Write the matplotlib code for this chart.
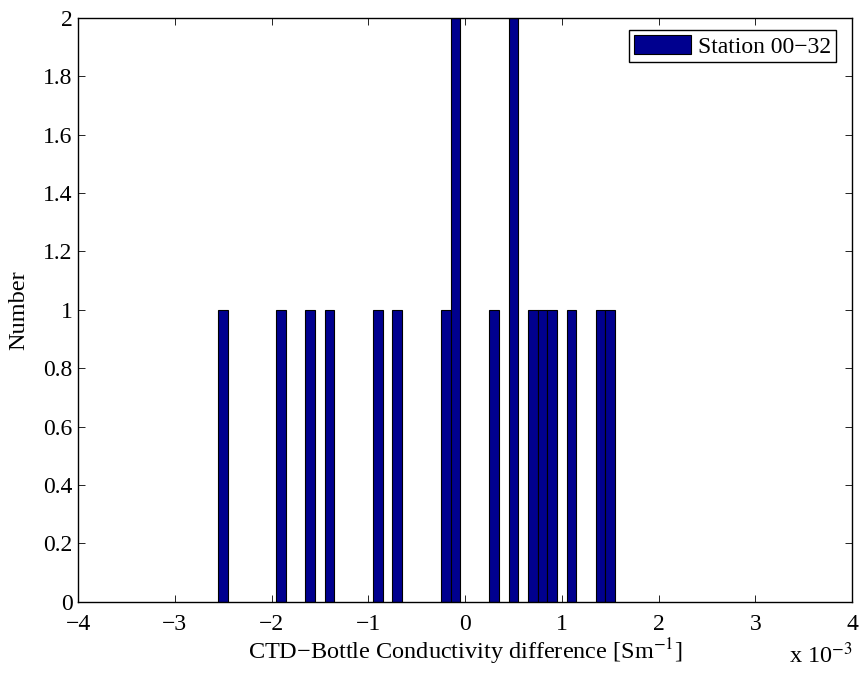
import matplotlib
matplotlib.use('Agg')
from matplotlib import pyplot as plt

# Bin centres (units of 1e-3 S/m) and counts
centres = [-2.5, -1.9, -1.6, -1.4, -0.9, -0.7, -0.2, -0.1,
           0.3, 0.5, 0.7, 0.8, 0.9, 1.1, 1.4, 1.5]
counts = [1, 1, 1, 1, 1, 1, 1, 2,
          1, 2, 1, 1, 1, 1, 1, 1]
bin_width = 0.1
x_ticks = [-4, -3, -2, -1, 0, 1, 2, 3, 4]
y_ticks = [0, 0.2, 0.4, 0.6, 0.8, 1, 1.2, 1.4, 1.6, 1.8, 2]

plt.rcParams['font.family'] = ['Liberation Serif', 'DejaVu Serif']
plt.rcParams['mathtext.fontset'] = 'stix'

fig = plt.figure(figsize=(8.61, 6.73), dpi=100)
ax = fig.add_axes([0.0906, 0.1059, 0.899, 0.8678])

ax.bar(centres, counts, width=bin_width, color='#00008f', edgecolor='black',
       linewidth=0.8, label='Station 00\u221232')

ax.set_xlim(-4, 4)
ax.set_ylim(0, 2)
ax.set_xticks(x_ticks)
ax.set_xticklabels([str(t).replace('-', '\u2212') for t in x_ticks])
ax.set_yticks(y_ticks)
ax.set_yticklabels(['%g' % t for t in y_ticks])
ax.tick_params(direction='in', top=True, right=True, length=5, width=0.6,
               labelsize=17)
ax.tick_params(axis='x', pad=9)
ax.tick_params(axis='y', pad=4)
for s in ax.spines.values():
    s.set_linewidth(1.0)

ax.set_xlabel('CTD\u2212Bottle Conductivity difference [Sm$^{-1}$]', fontsize=17.5, labelpad=1)
ax.set_ylabel('Number', fontsize=17.5, labelpad=10)
fig.text(0.99, 0.014, 'x 10$^{-3}$', fontsize=17.5, ha='right', va='baseline')

leg = ax.legend(loc='upper right', bbox_to_anchor=(0.979, 0.979), borderaxespad=0,
                fontsize=17, fancybox=False, framealpha=1,
                borderpad=0.2, handlelength=2.4, handleheight=0.9,
                handletextpad=0.3)
leg.get_frame().set_edgecolor('black')
leg.get_frame().set_linewidth(1.0)

fig.savefig('out.png', dpi=100)
